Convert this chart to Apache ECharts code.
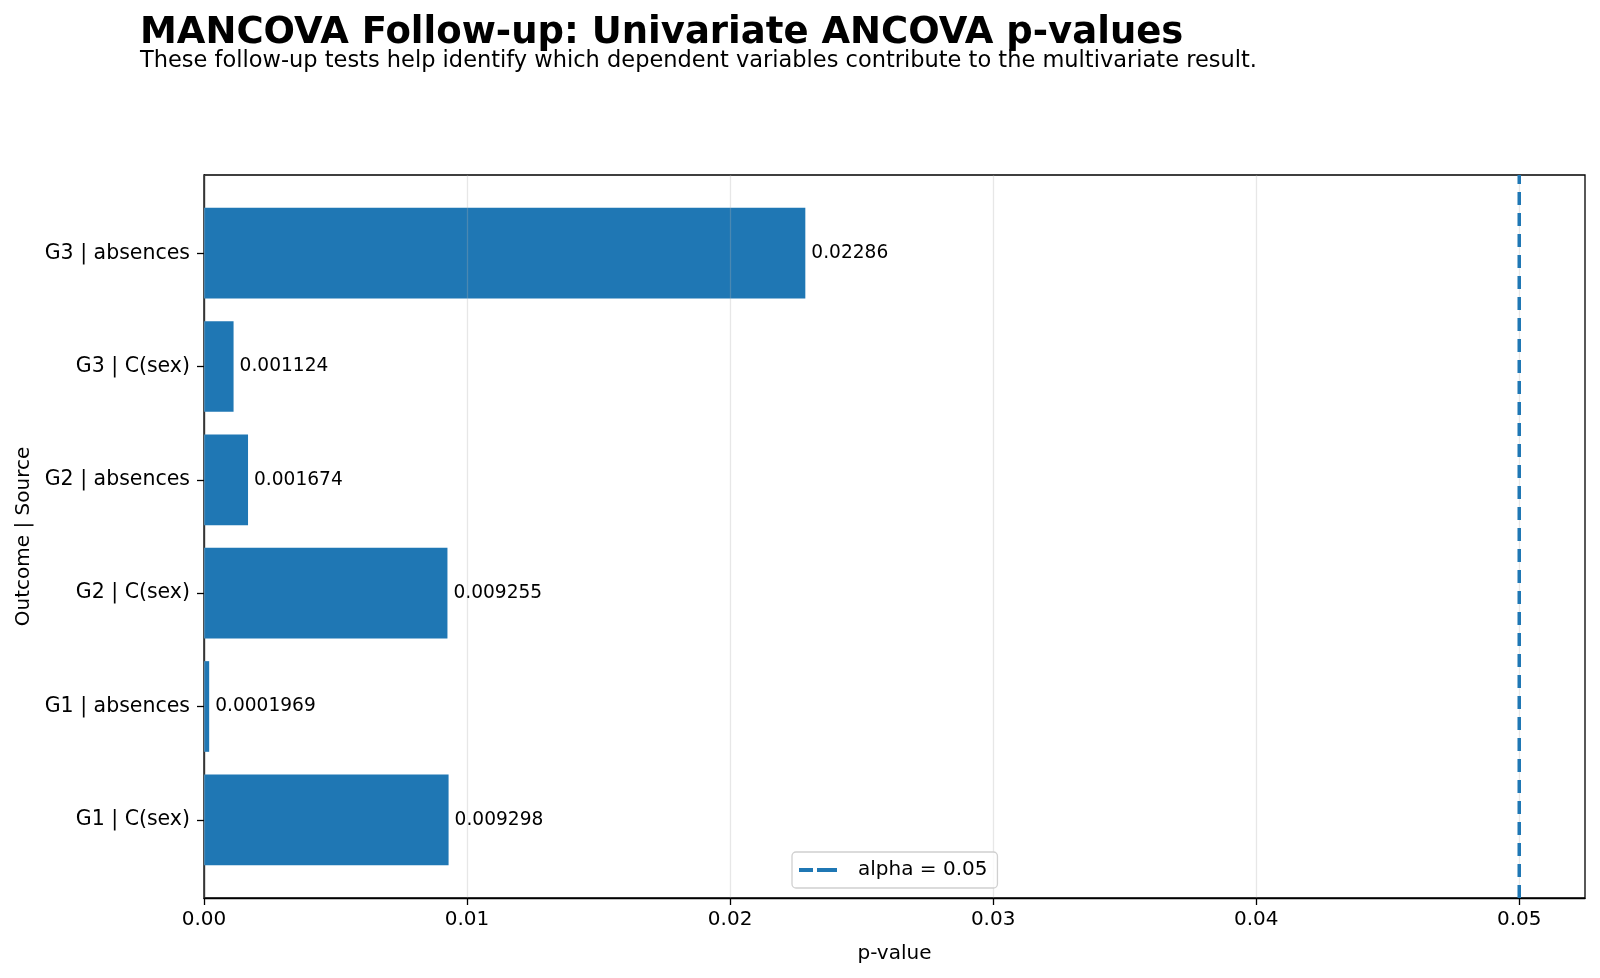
<!DOCTYPE html>
<html>
<head>
<meta charset="utf-8">
<script src="https://cdn.jsdelivr.net/npm/echarts@6/dist/echarts.min.js"></script>
<style>
    html, body { margin: 0; padding: 0; background: #fff; }
    #chart { width: 1600px; height: 978px; }
</style>
</head>
<body>
<div id="chart"></div>
<script>
    // data, bottom to top
    var categories = ['G1 | C(sex)', 'G1 | absences', 'G2 | C(sex)', 'G2 | absences', 'G3 | C(sex)', 'G3 | absences'];
    var pValues = [0.009298, 0.0001969, 0.009255, 0.001674, 0.001124, 0.02286];
    var pLabels = ['0.009298', '0.0001969', '0.009255', '0.001674', '0.001124', '0.02286'];
    var xTicks = [0, 0.01, 0.02, 0.03, 0.04, 0.05];
    var yTicks = [0, 1, 2, 3, 4, 5];
    var alpha = 0.05;

    var font = 'DejaVu Sans';
    var barColor = '#1f77b4';

    var barData = pValues.map(function (v, i) { return [v, i]; });

    var myChart = echarts.init(document.getElementById('chart'), null, {renderer: 'canvas'});
    var option = {
        animation: false,
        graphic: [
            {
                type: 'text', x: 140, y: 33,
                style: {
                    text: 'MANCOVA Follow-up: Univariate ANCOVA p-values',
                    font: 'bold 37px "DejaVu Sans"', fill: '#000', verticalAlign: 'middle'
                }
            },
            {
                type: 'text', x: 140, y: 61,
                style: {
                    text: 'These follow-up tests help identify which dependent variables contribute to the multivariate result.',
                    font: '22.5px "DejaVu Sans"', fill: '#000', verticalAlign: 'middle'
                }
            }
        ],
        grid: {
            left: 204, right: 15, top: 175, bottom: 80,
            outerBoundsMode: 'none',
            show: true, borderColor: '#000', borderWidth: 1.3, backgroundColor: 'transparent'
        },
        legend: {
            left: 792, top: 852,
            padding: [8, 10, 8, 7],
            itemWidth: 54, itemHeight: 20,
            borderColor: '#d0d0d0', borderWidth: 1.3, borderRadius: 4,
            backgroundColor: 'rgba(255,255,255,0.8)',
            textStyle: {fontFamily: font, fontSize: 20, color: '#000'},
            data: [{
                name: 'alpha = 0.05',
                // two dashes, the zero-width tail keeps the gap before the text
                icon: 'path://M0,8h14v4h-14z M18,8h20v4h-20z M54,0v20',
                itemStyle: {color: barColor}
            }]
        },
        xAxis: {
            type: 'value', min: 0, max: 0.0525, interval: 0.01,
            z: 3,
            name: 'p-value', nameLocation: 'middle', nameGap: 46,
            nameTextStyle: {fontFamily: font, fontSize: 20, color: '#000'},
            axisLine: {show: true, onZero: false, lineStyle: {color: '#000', width: 1.3}},
            axisTick: {show: true, length: 7, customValues: xTicks, lineStyle: {color: '#000', width: 1.3}},
            axisLabel: {
                customValues: xTicks, margin: 12,
                fontFamily: font, fontSize: 20, color: '#000',
                formatter: function (v) { return v.toFixed(2); }
            },
            splitLine: {show: true, lineStyle: {color: 'rgba(176,176,176,0.3)', width: 1.3}}
        },
        yAxis: {
            type: 'value', min: -0.69, max: 5.69,
            name: 'Outcome | Source', nameLocation: 'middle', nameGap: 170, nameRotate: 90,
            nameTextStyle: {fontFamily: font, fontSize: 20, color: '#000'},
            axisLine: {show: true, onZero: false, lineStyle: {color: '#000', width: 1.3}},
            axisTick: {show: true, length: 7, customValues: yTicks, lineStyle: {color: '#000', width: 1.3}},
            axisLabel: {
                customValues: yTicks, margin: 14,
                fontFamily: font, fontSize: 20.5, color: '#000',
                padding: [3, 0, 0, 0],
                formatter: function (v) { return categories[Math.round(v)]; }
            },
            splitLine: {show: false}
        },
        series: [
            {
                type: 'custom',
                name: 'p-value',
                data: barData,
                encode: {x: 0, y: 1},
                renderItem: function (params, api) {
                    var idx = api.value(1);
                    var start = api.coord([0, idx]);
                    var end = api.coord([api.value(0), idx]);
                    var h = api.size([0, 0.8])[1];
                    return {
                        type: 'rect',
                        shape: {x: start[0], y: start[1] - h / 2, width: end[0] - start[0], height: h},
                        style: {fill: barColor},
                        textContent: {
                            style: {
                                text: pLabels[params.dataIndex],
                                font: '18.6px "DejaVu Sans"', fill: '#000'
                            }
                        },
                        textConfig: {position: 'right', distance: 6}
                    };
                }
            },
            {
                type: 'line',
                name: 'alpha = 0.05',
                data: [[alpha, -0.69], [alpha, 5.69]],
                symbol: 'none',
                z: 4,
                lineStyle: {color: barColor, width: 3.5, type: [13, 8]},
                itemStyle: {color: barColor}
            }
        ]
    };
    myChart.setOption(option);
</script>
</body>
</html>
